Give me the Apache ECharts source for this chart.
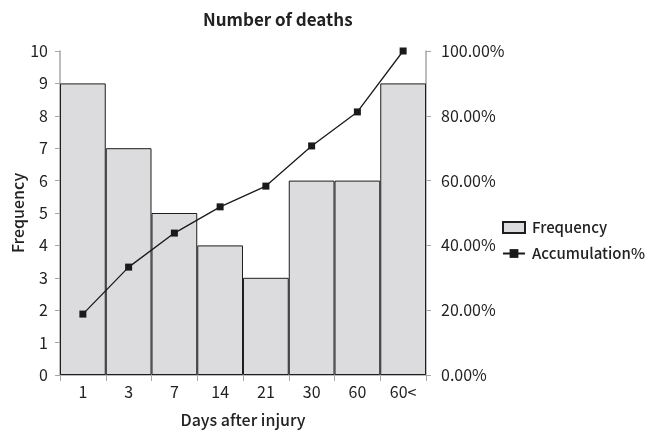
<!DOCTYPE html>
<html>
<head>
<meta charset="utf-8">
<script src="https://cdn.jsdelivr.net/npm/echarts@6/dist/echarts.min.js"></script>
<style>
  html, body { margin: 0; padding: 0; background: #fff; }
  #chart { width: 645px; height: 430px; }
</style>
</head>
<body>
<div id="chart"></div>
<script>
// Days after injury (bins) and counts per bin
const categories = ['1', '3', '7', '14', '21', '30', '60', '60<'];
const frequency = [9, 7, 5, 4, 3, 6, 6, 9];
// Cumulative share of deaths, in percent
const accumulation = [18.8, 33.3, 43.8, 51.9, 58.3, 70.7, 81.2, 100];

const FONT = '"Noto Sans CJK JP", "Noto Sans", sans-serif';
const AXIS_GRAY = '#a6a6a6';
const TEXT = '#222';

const chart = echarts.init(document.getElementById('chart'), null, { renderer: 'canvas' });

chart.setOption({
  animation: false,
  textStyle: { fontFamily: FONT, color: TEXT },
  title: {
    text: 'Number of deaths',
    left: 203,
    top: 11,
    padding: 0,
    textStyle: { fontFamily: FONT, fontSize: 17, fontWeight: 'bold', color: TEXT }
  },
  legend: {
    orient: 'vertical',
    left: 502,
    top: 220,
    padding: 0,
    itemGap: 11,
    itemWidth: 22,
    itemHeight: 11,
    textStyle: { fontFamily: FONT, fontSize: 15, fontWeight: 500, color: TEXT, padding: [0, 0, 0, 2] },
    data: [
      { name: 'Frequency', icon: 'rect' },
      { name: 'Accumulation%' }
    ]
  },
  grid: {
    left: 60, right: 219, top: 51, bottom: 55,
    containLabel: false,
    outerBoundsMode: 'none'
  },
  xAxis: {
    type: 'category',
    data: categories,
    boundaryGap: true,
    name: 'Days after injury',
    nameLocation: 'middle',
    nameGap: 37,
    nameTextStyle: { fontFamily: FONT, fontSize: 16, fontWeight: 500, color: TEXT },
    axisLine: { lineStyle: { color: AXIS_GRAY, width: 1.5 } },
    axisTick: { show: true, length: 6, interval: 0, lineStyle: { color: AXIS_GRAY } },
    axisLabel: { fontFamily: FONT, fontSize: 16, color: TEXT, margin: 9, interval: 0 }
  },
  yAxis: [
    {
      type: 'value',
      min: 0,
      max: 10,
      interval: 1,
      name: 'Frequency',
      nameLocation: 'middle',
      nameGap: 34,
      nameMoveOverlap: false,
      nameRotate: 90,
      nameTextStyle: { fontFamily: FONT, fontSize: 16, fontWeight: 500, color: TEXT },
      splitLine: { show: false },
      axisLine: { show: true, lineStyle: { color: AXIS_GRAY, width: 1.5 } },
      axisTick: { show: true, length: 5, lineStyle: { color: AXIS_GRAY } },
      axisLabel: { fontFamily: FONT, fontSize: 16, color: TEXT, margin: 12 }
    },
    {
      type: 'value',
      min: 0,
      max: 100,
      interval: 20,
      position: 'right',
      splitLine: { show: false },
      axisLine: { show: true, lineStyle: { color: AXIS_GRAY, width: 1.5 } },
      axisTick: { show: true, length: 5, lineStyle: { color: AXIS_GRAY } },
      axisLabel: {
        fontFamily: FONT, fontSize: 16, color: TEXT, margin: 15,
        formatter: v => v.toFixed(2) + '%'
      }
    }
  ],
  series: [
    {
      name: 'Frequency',
      type: 'bar',
      data: frequency,
      barCategoryGap: '0%',
      itemStyle: { color: '#dcdcde', borderColor: '#1e1e1e', borderWidth: 1 }
    },
    {
      name: 'Accumulation%',
      type: 'line',
      yAxisIndex: 1,
      data: accumulation,
      symbol: 'rect',
      symbolSize: 7,
      itemStyle: { color: '#1a1a1a' },
      lineStyle: { color: '#1a1a1a', width: 1.3 },
      z: 5
    }
  ]
});
</script>
</body>
</html>
